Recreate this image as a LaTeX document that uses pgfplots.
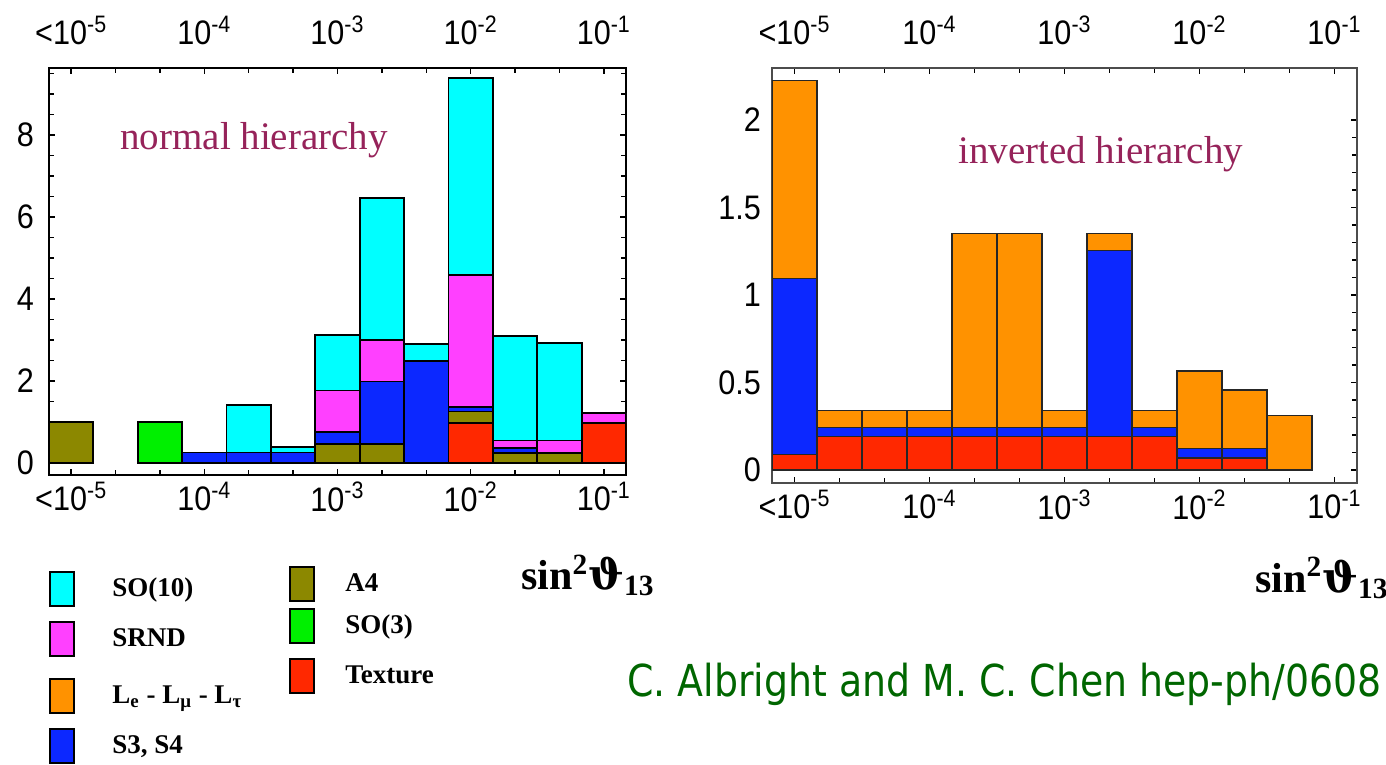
\documentclass[border=0pt]{standalone}
\usepackage{fontspec}
\setmainfont{Liberation Serif}
\newfontfamily\ticksf[FakeStretch=0.9]{Liberation Sans}
\newfontfamily\creditf[FakeStretch=0.86]{DejaVu Sans}
\newfontfamily\thetaf{DejaVu Serif}
\usepackage{pgfplots}
\usepackage{pgfplotstable}
\pgfplotsset{compat=1.18}

\definecolor{cSO}{RGB}{0,255,255}
\definecolor{cSR}{RGB}{255,64,255}
\definecolor{cL}{RGB}{255,146,0}
\definecolor{cS3}{RGB}{12,40,255}
\definecolor{cA4}{RGB}{140,136,0}
\definecolor{cSOt}{RGB}{0,240,0}
\definecolor{cTX}{RGB}{255,40,0}
\definecolor{hier}{RGB}{150,35,90}
\definecolor{credit}{RGB}{0,102,0}

% normal hierarchy: bin centre, Texture, A4, S3/S4, SRND, SO(10), SO(3)
\pgfplotstableread{
x    tex  a4   s3   srnd so10 sothree
0.5  0    1.00 0    0    0    0
1.5  0    0    0    0    0    0
2.5  0    0    0    0    0    1.00
3.5  0    0    0.26 0    0    0
4.5  0    0    0.26 0    1.16 0
5.5  0    0    0.26 0    0.13 0
6.5  0    0.47 0.28 1.02 1.36 0
7.5  0    0.47 1.52 1.02 3.45 0
8.5  0    0    2.48 0    0.42 0
9.5  0.98 0.28 0.10 3.23 4.80 0
10.5 0    0.24 0.13 0.18 2.54 0
11.5 0    0.24 0    0.31 2.38 0
12.5 0.98 0    0    0.24 0    0
}\normaltab

% inverted hierarchy: bin centre, Texture, S3/S4, Le-Lmu-Ltau
\pgfplotstableread{
x    tex  s3    lel
0.5  0.09 1.005 1.13
1.5  0.19 0.054 0.095
2.5  0.19 0.054 0.095
3.5  0.19 0.054 0.095
4.5  0.19 0.054 1.108
5.5  0.19 0.054 1.108
6.5  0.19 0.054 0.095
7.5  0.19 1.063 0.099
8.5  0.19 0.054 0.095
9.5  0.07 0.054 0.442
10.5 0.07 0.054 0.333
11.5 0    0     0.31
12.5 0    0     0
}\invertedtab

\pgfplotsset{
  hbase/.style={
    scale only axis, anchor=south west,
    xmin=0, xmax=13, enlargelimits=false,
    xtick={0.5,3.5,6.5,9.5,12.5},
    minor xtick={1.5,2.5,4.5,5.5,7.5,8.5,10.5,11.5},
    xticklabels={<10\textsuperscript{-5},10\textsuperscript{-4},10\textsuperscript{-3},10\textsuperscript{-2},10\textsuperscript{-1}},
    tick align=inside, xtick pos=both, ytick pos=both,
    major tick length=3pt, minor tick length=2.5pt,
    tick style={black, line width=0.7pt},
    tick label style={font=\ticksf\fontsize{17}{17}\selectfont},
    ybar stacked, bar width=1,
  },
  toplab/.style={
    scale only axis, anchor=south west,
    xmin=0, xmax=13, ymin=0, ymax=1, enlargelimits=false,
    axis line style={draw=none}, xtick style={draw=none},
    ytick=\empty,
    xtick={0.5,3.5,6.5,9.5,12.5},
    xticklabels={<10\textsuperscript{-5},10\textsuperscript{-4},10\textsuperscript{-3},10\textsuperscript{-2},10\textsuperscript{-1}},
    xticklabel pos=upper,
    tick label style={font=\ticksf\fontsize{17}{17}\selectfont},
    xticklabel style={yshift=8pt},
  },
}

% legend entry: swatch x (px), text x (px), centre y (px), colour, text
\newcommand{\legentry}[5]{%
  \draw[fill=#4,draw=black,line width=0.9pt]
    ({#1*0.5pt},{-#3*0.5pt+8.5pt}) rectangle ({#1*0.5pt+12pt},{-#3*0.5pt-8.5pt});
  \node[anchor=base west, inner sep=0pt, font=\bfseries\fontsize{13.5}{14}\selectfont]
    at ({#2*0.5pt},{-(#3+7)*0.5pt}) {#5};}

\begin{document}
\begin{tikzpicture}
\useasboundingbox (0,0) rectangle (693pt,-382.5pt);

% ---------------- normal hierarchy ----------------
\begin{axis}[hbase,
  at={(24.5pt,-237.5pt)}, width=288.5pt, height=203.5pt,
  ymin=-0.29, ymax=9.63,
  ytick={0,2,4,6,8}, yticklabels={0,2,4,6,8},
  minor ytick={0.5,1,...,9.5},
  yticklabel style={xshift=-4pt},
  axis line style={black, line width=1.1pt},
  every axis plot/.append style={draw=black, line width=0.9pt},
  xlabel={\bfseries\fontsize{21}{21}\selectfont sin\textsuperscript{2}{\thetaf ϑ}\textsubscript{13}},
  xlabel style={at={(axis description cs:0.934,-0.246)}, anchor=center},
]
\addplot[fill=cTX] table[x=x, y=tex] {\normaltab};
\addplot[fill=cA4] table[x=x, y=a4] {\normaltab};
\addplot[fill=cS3] table[x=x, y=s3] {\normaltab};
\addplot[fill=cSR] table[x=x, y=srnd] {\normaltab};
\addplot[fill=cSO] table[x=x, y=so10] {\normaltab};
\addplot[fill=cSOt] table[x=x, y=sothree] {\normaltab};
\node[anchor=base west, inner sep=0pt, text=hier, font=\fontsize{19.5}{20}\selectfont]
  at (axis description cs:0.123,0.801) {normal hierarchy};
\end{axis}
\begin{axis}[toplab, at={(24.5pt,-237.5pt)}, width=288.5pt, height=203.5pt]
\end{axis}

% ---------------- inverted hierarchy ----------------
\begin{axis}[hbase,
  at={(386pt,-241.5pt)}, width=292.5pt, height=207.5pt,
  ymin=-0.074, ymax=2.297,
  ytick={0,0.5,1,1.5,2}, yticklabels={0,0.5,1,1.5,2},
  minor y tick num=4,
  yticklabel style={xshift=-2pt},
  axis line style={black!70, line width=0.9pt},
  every axis plot/.append style={draw=black!85, line width=0.7pt},
  xlabel={\bfseries\fontsize{21}{21}\selectfont sin\textsuperscript{2}{\thetaf ϑ}\textsubscript{13}},
  xlabel style={at={(axis description cs:0.940,-0.229)}, anchor=center},
]
\addplot[fill=cTX] table[x=x, y=tex] {\invertedtab};
\addplot[fill=cS3] table[x=x, y=s3] {\invertedtab};
\addplot[fill=cL] table[x=x, y=lel] {\invertedtab};
\node[anchor=base west, inner sep=0pt, text=hier, font=\fontsize{19.5}{20}\selectfont]
  at (axis description cs:0.318,0.771) {inverted hierarchy};
\end{axis}
\begin{axis}[toplab, at={(386pt,-241.5pt)}, width=292.5pt, height=207.5pt]
\end{axis}

% ---------------- legend ----------------
\legentry{50}{112}{589}{cSO}{SO(10)}
\legentry{50}{112}{639}{cSR}{SRND}
\legentry{50}{112}{696}{cL}{L\textsubscript{e} - L\textsubscript{μ} - L\textsubscript{τ}}
\legentry{50}{112}{746}{cS3}{S3, S4}
\legentry{290}{345}{584}{cA4}{A4}
\legentry{290}{345}{626}{cSOt}{SO(3)}
\legentry{290}{345}{676}{cTX}{Texture}

\node[anchor=base west, inner sep=0pt, text=credit, font=\creditf\fontsize{22}{22}\selectfont]
  at (313.5pt,-348pt) {C. Albright and M. C. Chen hep-ph/0608};
\end{tikzpicture}
\end{document}
